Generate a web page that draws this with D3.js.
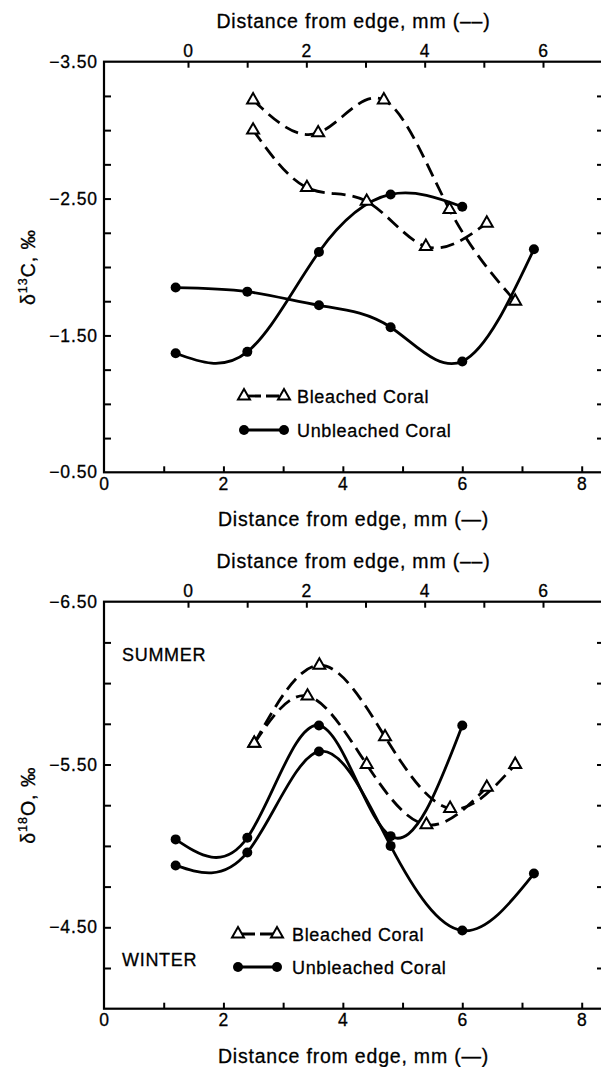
<!DOCTYPE html>
<html>
<head>
<meta charset="utf-8">
<script src="https://cdn.jsdelivr.net/npm/d3@7"></script>
<style>
  body { margin: 0; background: #fff; }
  text { font-family: "Liberation Sans", Arial, sans-serif; fill: #000; stroke: #000; stroke-width: 0.3; }
</style>
</head>
<body>
<svg id="chart" width="601" height="1067"></svg>
<script>
// Axis ticks shared by both panels
const bottomXTicks = [1, 2, 3, 4, 5, 6, 7, 8];
const bottomXLabels = [0, 2, 4, 6, 8];
const topXTicks = [0, 1, 2, 3, 4, 5, 6];
const topXLabels = [0, 2, 4, 6];

// d13C panel
const c13YTicks = [-3.25, -3.0, -2.75, -2.5, -2.25, -2.0, -1.75, -1.5, -1.25, -1.0, -0.75];
const c13YLabels = [-3.5, -2.5, -1.5, -0.5];
const c13UnbleachedAX = [1.2, 2.4, 3.6, 4.8, 6.0, 7.2];
const c13UnbleachedA = [-1.85, -1.82, -1.72, -1.56, -1.31, -2.13];
const c13UnbleachedBX = [1.2, 2.4, 3.6, 4.8, 6.0];
const c13UnbleachedB = [-1.37, -1.38, -2.11, -2.53, -2.44];
const c13BleachedAX = [1.10, 2.20, 3.31, 4.42, 5.53];   // top axis (--)
const c13BleachedA = [-3.22, -2.98, -3.22, -2.42, -1.75];
const c13BleachedBX = [1.10, 2.01, 3.02, 4.02, 5.05];   // top axis (--)
const c13BleachedB = [-3.00, -2.58, -2.48, -2.15, -2.32];

// d18O panel
const o18YTicks = [-6.25, -6.0, -5.75, -5.5, -5.25, -5.0, -4.75, -4.5, -4.25];
const o18YLabels = [-6.5, -5.5, -4.5];
const o18UnbleachedAX = [1.2, 2.4, 3.6, 4.8, 6.0];
const o18UnbleachedA = [-5.04, -5.05, -5.74, -5.06, -5.74];
const o18UnbleachedBX = [1.2, 2.4, 3.6, 4.8, 6.0, 7.2];
const o18UnbleachedB = [-4.88, -4.96, -5.58, -5.00, -4.48, -4.83];
const o18BleachedAX = [1.12, 2.22, 3.33, 4.43, 5.53];   // top axis (--)
const o18BleachedA = [-5.63, -6.11, -5.67, -5.23, -5.50];
const o18BleachedBX = [1.12, 2.02, 3.02, 4.03, 5.05];   // top axis (--)
const o18BleachedB = [-5.63, -5.92, -5.50, -5.13, -5.36];

const FONT = '"Liberation Sans", Arial, sans-serif';
const LEFT = 104, RIGHT = 603;

const svg = d3.select("#chart");

/**
 * Draws one panel: frame, both x axes, y axis, curves, markers, legend.
 */
function drawPanel(cfg) {
    const xB = d3.scaleLinear().domain([0, 8]).range([LEFT, 581.7]);
    const xT = d3.scaleLinear().domain([0, 6]).range([188, 543]);
    const y = d3.scaleLinear().domain(cfg.yDomain).range([cfg.top, cfg.bottom]);

    const g = svg.append("g");

    const styleAxis = (sel, size) => {
        sel.attr("font-family", FONT).attr("font-size", size);
        sel.select(".domain").remove();
        sel.selectAll("line").attr("stroke", "#000").attr("stroke-width", 2);
        sel.selectAll("text").attr("fill", "#000").attr("letter-spacing", 0.9);
    };

    // Inward ticks
    g.append("g").attr("transform", `translate(${LEFT},0)`)
        .call(d3.axisLeft(y).tickValues(cfg.yTicks).tickSize(-7).tickFormat(""))
        .call(s => styleAxis(s, 16));
    g.append("g").attr("transform", `translate(${RIGHT},0)`)
        .call(d3.axisRight(y).tickValues(cfg.yTicks).tickSize(-6).tickFormat(""))
        .call(s => styleAxis(s, 16));
    g.append("g").attr("transform", `translate(0,${cfg.bottom})`)
        .call(d3.axisBottom(xB).tickValues(bottomXTicks).tickSize(-6).tickFormat(""))
        .call(s => styleAxis(s, 16));
    g.append("g").attr("transform", `translate(0,${cfg.top})`)
        .call(d3.axisTop(xT).tickValues(topXTicks).tickSize(-6).tickFormat(""))
        .call(s => styleAxis(s, 16));

    // Tick labels
    g.append("g").attr("transform", `translate(${LEFT},0)`)
        .call(d3.axisLeft(y).tickValues(cfg.yLabels).tickSize(0).tickPadding(6).tickFormat(d3.format(".2f")))
        .call(s => styleAxis(s, 17.5));
    g.append("g").attr("transform", `translate(0,${cfg.bottom})`)
        .call(d3.axisBottom(xB).tickValues(bottomXLabels).tickSize(0).tickPadding(5).tickFormat(d3.format("d")))
        .call(s => styleAxis(s, 17.5));
    g.append("g").attr("transform", `translate(0,${cfg.top})`)
        .call(d3.axisTop(xT).tickValues(topXLabels).tickSize(0).tickPadding(5).tickFormat(d3.format("d")))
        .call(s => styleAxis(s, 17.5));

    // Frame
    g.append("rect")
        .attr("x", LEFT).attr("y", cfg.top)
        .attr("width", RIGHT - LEFT).attr("height", cfg.bottom - cfg.top)
        .attr("fill", "none").attr("stroke", "#000").attr("stroke-width", 2.2);

    // Axis titles
    const cx = (LEFT + RIGHT) / 2;
    g.append("text")
        .attr("x", cx).attr("y", cfg.top - 34)
        .attr("text-anchor", "middle")
        .attr("font-size", 19.5).attr("letter-spacing", 0.8)
        .text("Distance from edge, mm (\u2013\u2013)");
    g.append("text")
        .attr("x", cx).attr("y", cfg.bottom + 54)
        .attr("text-anchor", "middle")
        .attr("font-size", 19.5).attr("letter-spacing", 0.8)
        .text("Distance from edge, mm (\u2014)");

    const yt = g.append("text")
        .attr("transform", `translate(35,${(cfg.top + cfg.bottom) / 2}) rotate(-90)`)
        .attr("text-anchor", "middle")
        .attr("font-size", 19.5).attr("letter-spacing", 1);
    yt.append("tspan").text("\u03b4");
    yt.append("tspan").attr("font-size", 12.5).attr("dy", -8).text(cfg.isotope);
    yt.append("tspan").attr("dy", 8).text(cfg.element + ", \u2030");

    // Curves
    const lineB = d3.line().x(d => xB(d[0])).y(d => y(d[1])).curve(d3.curveNatural);
    const lineT = d3.line().x(d => xT(d[0])).y(d => y(d[1])).curve(d3.curveNatural);

    cfg.bleached.forEach(s => {
        g.append("path").datum(d3.zip(s.x, s.y))
            .attr("d", lineT)
            .attr("fill", "none").attr("stroke", "#000")
            .attr("stroke-width", 2.8).attr("stroke-dasharray", "14,7");
    });
    cfg.unbleached.forEach(s => {
        g.append("path").datum(d3.zip(s.x, s.y))
            .attr("d", lineB)
            .attr("fill", "none").attr("stroke", "#000")
            .attr("stroke-width", 2.8);
    });

    const tri = d3.symbol(d3.symbolTriangle, 62);
    cfg.bleached.forEach(s => {
        g.selectAll(null).data(d3.zip(s.x, s.y)).enter().append("path")
            .attr("d", tri)
            .attr("transform", d => `translate(${xT(d[0])},${y(d[1])})`)
            .attr("fill", "#fff").attr("stroke", "#000").attr("stroke-width", 2);
    });
    cfg.unbleached.forEach(s => {
        g.selectAll(null).data(d3.zip(s.x, s.y)).enter().append("circle")
            .attr("cx", d => xB(d[0])).attr("cy", d => y(d[1]))
            .attr("r", 5).attr("fill", "#000");
    });

    // Legend
    const L = cfg.legend;
    g.append("line")
        .attr("x1", L.x1).attr("x2", L.x2).attr("y1", L.y1).attr("y2", L.y1)
        .attr("stroke", "#000").attr("stroke-width", 2.8)
        .attr("stroke-dasharray", "13,5").attr("stroke-dashoffset", -4);
    [L.x1, L.x2].forEach(x => {
        g.append("path").attr("d", tri)
            .attr("transform", `translate(${x},${L.y1})`)
            .attr("fill", "#fff").attr("stroke", "#000").attr("stroke-width", 2);
    });
    g.append("line")
        .attr("x1", L.x1).attr("x2", L.x2).attr("y1", L.y2).attr("y2", L.y2)
        .attr("stroke", "#000").attr("stroke-width", 2.8);
    [L.x1, L.x2].forEach(x => {
        g.append("circle").attr("cx", x).attr("cy", L.y2).attr("r", 5).attr("fill", "#000");
    });
    g.append("text").attr("x", L.tx).attr("y", L.y1 + 6.5)
        .attr("font-size", 18).attr("letter-spacing", 0.65).text("Bleached Coral");
    g.append("text").attr("x", L.tx).attr("y", L.y2 + 6.5)
        .attr("font-size", 18).attr("letter-spacing", 0.65).text("Unbleached Coral");

    (cfg.notes || []).forEach(n => {
        g.append("text").attr("x", n.x).attr("y", n.y)
            .attr("font-size", 18).attr("letter-spacing", 0.7).text(n.text);
    });
}

drawPanel({
    top: 61.7, bottom: 472.3,
    yDomain: [-3.5, -0.5],
    yTicks: c13YTicks, yLabels: c13YLabels,
    isotope: "13", element: "C",
    unbleached: [
        { x: c13UnbleachedAX, y: c13UnbleachedA },
        { x: c13UnbleachedBX, y: c13UnbleachedB }
    ],
    bleached: [
        { x: c13BleachedAX, y: c13BleachedA },
        { x: c13BleachedBX, y: c13BleachedB }
    ],
    legend: { x1: 244, x2: 284, y1: 396, y2: 430, tx: 297 }
});

drawPanel({
    top: 601.7, bottom: 1008.7,
    yDomain: [-6.5, -4.0],
    yTicks: o18YTicks, yLabels: o18YLabels,
    isotope: "18", element: "O",
    unbleached: [
        { x: o18UnbleachedAX, y: o18UnbleachedA },
        { x: o18UnbleachedBX, y: o18UnbleachedB }
    ],
    bleached: [
        { x: o18BleachedAX, y: o18BleachedA },
        { x: o18BleachedBX, y: o18BleachedB }
    ],
    legend: { x1: 238, x2: 277, y1: 934, y2: 967, tx: 292 },
    notes: [
        { x: 122, y: 661, text: "SUMMER" },
        { x: 122, y: 966, text: "WINTER" }
    ]
});
</script>
</body>
</html>
